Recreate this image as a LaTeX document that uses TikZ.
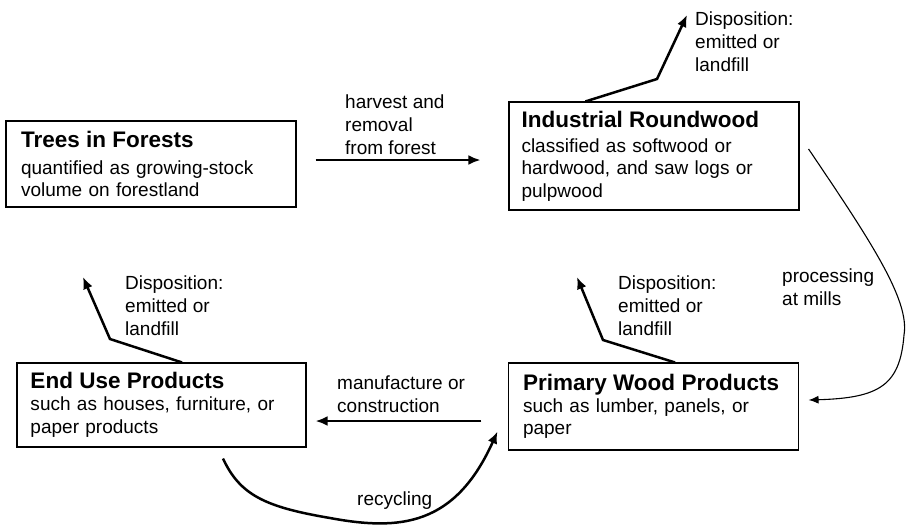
\documentclass[tikz,border=0pt]{standalone}
\usepackage{fontspec}
\setmainfont{Liberation Sans}
\usetikzlibrary{arrows.meta}

\newcommand{\stagetitle}[1]{{\fontsize{22.5}{27}\selectfont\bfseries #1}}

\tikzset{
    stage/.style={
        draw,
        line width=1.1pt,
        rectangle,
        align=left,
        inner ysep=0pt,
        font=\fontsize{19}{22.5}\selectfont,
    },
    note/.style={
        align=left,
        inner sep=0pt,
        anchor=base west,
        font=\fontsize{19}{22.7}\selectfont,
    },
    flow/.style={line width=2.5pt,-{Latex[length=12pt,width=10pt]}},
    thinflow/.style={line width=1.1pt,-{Latex[length=10pt,width=8pt]}},
}

\begin{document}
\begin{tikzpicture}[x=1pt,y=-1pt]
    \useasboundingbox (0,0) rectangle (907,525);

    % boxes
    \node[stage,minimum height=86,inner xsep=15,text width=260] (forest) at (151,164)
        {\stagetitle{Trees in Forests}\\[4.5pt]quantified as growing-stock\\volume on forestland};
    \node[stage,minimum height=108,inner xsep=12.5,text width=265] (round) at (654,156)
        {\stagetitle{Industrial Roundwood}\\[2.5pt]classified as softwood or\\hardwood, and saw logs or\\pulpwood};
    \node[stage,minimum height=84,inner xsep=13.5,text width=262] (enduse) at (161.5,405)
        {\stagetitle{End Use Products}\\[-0.5pt]such as houses, furniture, or\\paper products};
    \node[stage,minimum height=87,inner xsep=14.5,text width=261] (primary) at (653.5,406.5)
        {\stagetitle{Primary Wood Products}\\[-0.5pt]such as lumber, panels, or\\paper};

    % disposition ends
    \coordinate (dispRound) at (687,15);
    \coordinate (dispEnd) at (83,277);
    \coordinate (dispPrimary) at (577,277);

    % connectors
    \draw[flow] ([xshift=19pt,yshift=4pt]forest.east) -- ([xshift=-28pt,yshift=-4pt]round.west);
    \draw[flow] ([xshift=-26.5pt,yshift=-14.5pt]primary.west) -- ([xshift=9pt,yshift=-16pt]enduse.east);
    \draw[flow] ([xshift=77pt]round.north west) -- (657,79) -- (dispRound);
    \draw[flow] ([xshift=20.5pt]enduse.north) -- (110,339) -- (dispEnd);
    \draw[flow] ([xshift=21.5pt]primary.north) -- (603,340) -- (dispPrimary);
    \draw[flow] ([xshift=61.5pt,yshift=-11pt]enduse.south)
        .. controls (240,495) and (265,507) .. (330,518)
        .. controls (400,531) and (455,526) .. ([xshift=-10.5pt,yshift=19pt]primary.south west);
    \draw[thinflow] ([xshift=9pt,yshift=7pt]round.east)
        .. controls (870,240) and (910,300) .. (904,335)
        .. controls (900,385) and (880,398) .. ([xshift=9.5pt,yshift=6.5pt]primary.east);

    % labels (placed at the baseline of their last line)
    \node[note] (harvest) at (345,154) {harvest and\\removal\\from forest};
    \node[note] (manufacture) at (337,412.5) {manufacture or\\construction};
    \node[note] (recycling) at (357,505) {recycling};
    \node[note] (mills) at (782,305) {processing\\at mills};
    \node[note] (dispRoundText) at (695,71) {Disposition:\\emitted or\\landfill};
    \node[note] (dispEndText) at (125,335) {Disposition:\\emitted or\\landfill};
    \node[note] (dispPrimaryText) at (618,335) {Disposition:\\emitted or\\landfill};
\end{tikzpicture}
\end{document}
